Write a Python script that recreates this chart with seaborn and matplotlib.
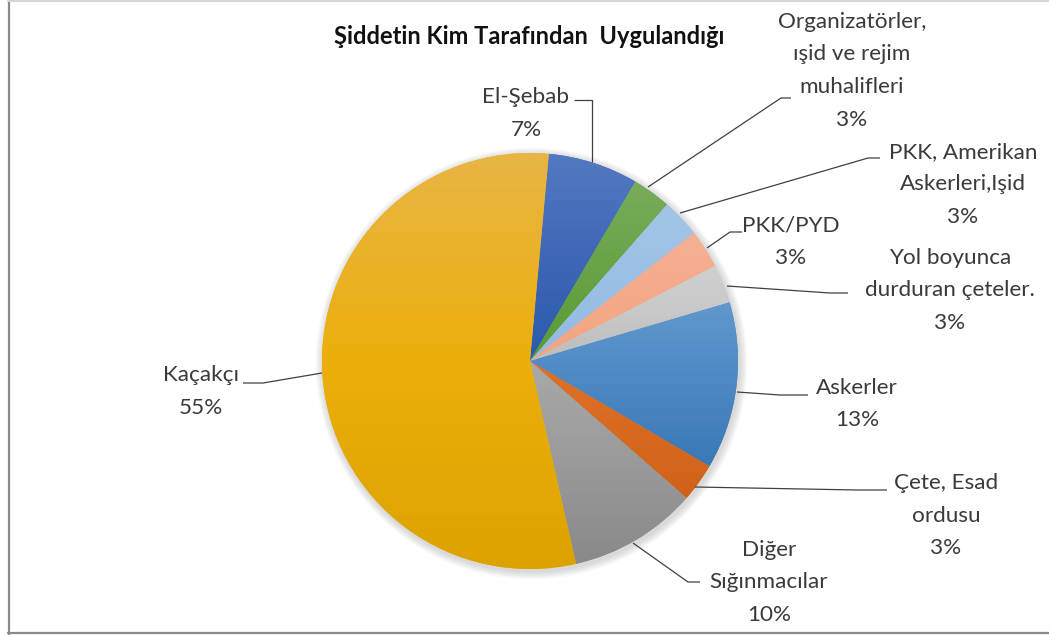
import numpy as np
import matplotlib
matplotlib.use("Agg")
import matplotlib.pyplot as plt
import seaborn as sns
from matplotlib.colors import to_rgb
from matplotlib.lines import Line2D
from matplotlib.patches import Circle

# ---------------- data ----------------
title = "Şiddetin Kim Tarafından  Uygulandığı"
categories = [
    "El-Şebab",
    "Organizatörler,\nışid ve rejim\nmuhalifleri",
    "PKK, Amerikan\nAskerleri,Işid",
    "PKK/PYD",
    "Yol boyunca\ndurduran çeteler.",
    "Askerler",
    "Çete, Esad\nordusu",
    "Diğer\nSığınmacılar",
    "Kaçakçı",
]
percent = [7, 3, 3, 3, 3, 13, 3, 10, 55]

# ---------------- style ----------------
sns.set_theme(style="white")
plt.rcParams["font.family"] = ["Lato", "DejaVu Sans"]

W, H = 1049, 635
fig = plt.figure(figsize=(W / 100, H / 100), dpi=100)
ax = fig.add_axes([0, 0, 1, 1])

def Y(y):
    return H - y

cx, cy, R = 530, Y(361), 208

grads = [
    ("#5479C2", "#3E67B7", "#2C5AAB"),
    ("#78AC5A", "#68A346", "#5A9B33"),
    ("#A3C4E7", "#9BC0E5", "#93BAE2"),
    ("#F5B095", "#F4AA89", "#F2A480"),
    ("#D0D0D0", "#C8C8C8", "#BDBDBD"),
    ("#6198CD", "#4C88C3", "#3A78B6"),
    ("#DD7228", "#D86A20", "#CF6119"),
    ("#A9A9A9", "#9A9A9A", "#898989"),
    ("#E8B545", "#ECAF0B", "#DCA300"),
]

# soft shadow
for k in range(1, 8):
    ax.add_patch(Circle((cx + 1.5, cy - 2.5), R + k * 1.1, color="k",
                        alpha=0.022, lw=0, zorder=0))

wedges, _ = ax.pie(percent, startangle=84.8, counterclock=False,
                   center=(cx, cy), radius=R,
                   colors=[g[1] for g in grads],
                   wedgeprops=dict(linewidth=0, edgecolor="none"))

for w, g in zip(wedges, grads):
    w.set_zorder(1)
    ext = w.get_path().get_extents()
    n = 256
    t = np.linspace(0, 1, n)[:, None]  # 0 bottom -> 1 top
    top, mid, bot = (np.array(to_rgb(c)) for c in g)
    col = np.where(t < 0.5, bot + (mid - bot) * (t / 0.5),
                   mid + (top - mid) * ((t - 0.5) / 0.5))
    img = np.repeat(col[:, None, :], 2, axis=1)
    im = ax.imshow(img, extent=[ext.x0, ext.x1, ext.y0, ext.y1],
                   origin="lower", aspect="auto", zorder=2,
                   interpolation="bilinear")
    im.set_clip_path(w)

# ---------------- labels & leaders ----------------
label_pos = [  # (x center, y of first line) in pixels
    (526, 97), (852, 22), (963, 152), (791, 226), (950, 258),
    (857, 388), (946, 483), (769, 550), (201, 375),
]
leaders = [
    [(574, 100), (592, 100), (592, 162)],
    [(791, 98), (781, 98), (648, 187)],
    [(880, 158), (868, 158), (680, 213)],
    [(742, 232), (730, 232), (707, 248)],
    [(848, 293), (830, 293), (727, 286)],
    [(808, 395), (780, 395), (737, 392)],
    [(887, 490), (857, 490), (695, 487)],
    [(700, 582), (688, 582), (633, 543)],
    [(243, 383), (263, 383), (322, 373)],
]
line_h = 32.5
for cat, p, (lx, ly), ld in zip(categories, percent, label_pos, leaders):
    lines = cat.split("\n") + [f"{p}%"]
    for i, s in enumerate(lines):
        ax.text(lx, Y(ly + i * line_h), s, ha="center", va="center",
                fontsize=16.2, color="#3a3a3a", zorder=5)
    xs = [q[0] for q in ld]
    ys = [Y(q[1]) for q in ld]
    ax.plot(xs, ys, color="#404040", lw=0.9, zorder=4,
            solid_capstyle="butt")

ax.text(529, Y(37), title, ha="center", va="center", fontsize=17,
        fontweight="bold", color="#111111", zorder=5)

ax.set_xlim(0, W)
ax.set_ylim(0, H)
ax.set_aspect("equal")
ax.axis("off")

# chart frame
fig.add_artist(Line2D([8.5 / W, 8.5 / W], [0, 1], color="#8a8a8a", lw=1.6,
                      transform=fig.transFigure))
fig.add_artist(Line2D([8 / W, 1], [2.5 / H, 2.5 / H], color="#8a8a8a", lw=1.6,
                      transform=fig.transFigure))
fig.add_artist(Line2D([8 / W, 1], [1 - 1 / H, 1 - 1 / H], color="#d6d6d6",
                      lw=1.5, transform=fig.transFigure))

fig.savefig("out.png", dpi=100)
